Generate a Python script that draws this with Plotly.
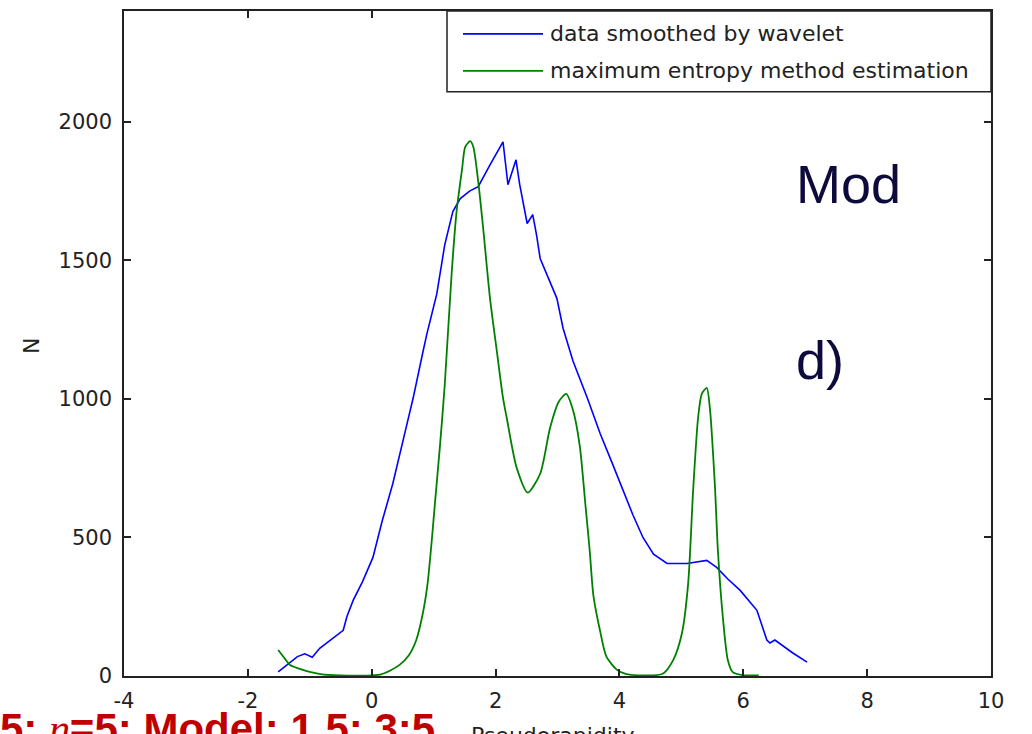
import plotly.graph_objects as go

# ---- data ----
blue_x = [-1.51, -1.40, -1.32, -1.20, -1.08, -0.96, -0.84, -0.72, -0.62, -0.46, -0.40, -0.30,
          -0.15, 0.02, 0.17, 0.34, 0.57, 0.67, 0.83, 0.89, 1.05, 1.18, 1.31, 1.43, 1.58, 1.72,
          1.91, 2.12, 2.20, 2.33, 2.39, 2.51, 2.60, 2.66, 2.72, 2.85, 2.99, 3.09, 3.25, 3.48,
          3.69, 3.88, 4.06, 4.22, 4.38, 4.55, 4.77, 5.09, 5.41, 5.57, 5.75, 5.95, 6.22, 6.38,
          6.43, 6.51, 6.80, 7.03]
blue_y = [15, 35, 50, 70, 80, 68, 100, 120, 137, 165, 215, 273,
          340, 428, 560, 694, 910, 1004, 1173, 1234, 1378, 1557, 1676, 1723, 1750, 1766,
          1845, 1928, 1773, 1863, 1773, 1633, 1665, 1594, 1507, 1440, 1363, 1255, 1137, 1004,
          874, 770, 669, 580, 500, 440, 406, 406, 417, 392, 350, 309, 237, 130,
          119, 130, 83, 50]

green_x = [-1.51, -1.40, -1.32, -1.15, -1.0, -0.8, -0.5, -0.2, 0.0, 0.15,
           0.3, 0.45, 0.60, 0.72, 0.82, 0.90, 0.97, 1.02, 1.10, 1.18, 1.29,
           1.37, 1.46, 1.51, 1.59, 1.64, 1.72, 1.80, 1.91, 2.02, 2.12,
           2.18, 2.34, 2.52, 2.72, 2.88, 3.02, 3.14, 3.25, 3.36, 3.45,
           3.52, 3.58, 3.69, 3.79, 3.96, 4.1, 4.4, 4.70, 4.87, 5.01,
           5.11, 5.19, 5.27, 5.33, 5.41, 5.46, 5.54, 5.59, 5.67, 5.75,
           5.83, 6.0, 6.25]
green_y = [94, 62, 40, 25, 15, 6, 2, 1, 2, 6,
           20, 40, 75, 130, 220, 330, 490, 621, 825, 1053, 1450,
           1676, 1831, 1910, 1930, 1910, 1784, 1615, 1363, 1173, 1004,
           932, 752, 662, 730, 896, 990, 1018, 960, 830, 620,
           453, 290, 160, 70, 22, 8, 2, 8, 58, 155,
           334, 669, 932, 1018, 1040, 968, 694, 453, 212, 58,
           14, 3, 2]

series_names = ["data smoothed by wavelet", "maximum entropy method estimation"]
x_ticks = [-4, -2, 0, 2, 4, 6, 8, 10]
x_tick_text = ["-4", "-2", "0", "2", "4", "6", "8", "10"]
y_ticks = [0, 500, 1000, 1500, 2000]
y_tick_text = ["0", "500", "1000", "1500", "2000"]
x_range = [-4, 10]
y_range = [0, 2400]

BLUE = "rgb(0,0,255)"
GREEN = "rgb(0,128,0)"
AXFONT = "DejaVu Sans, sans-serif"
SLIDEFONT = "Arial, Liberation Sans, sans-serif"
TXT = "#222"

W, H = 1032, 734
L, R, T, B = 124, 41, 9, 58
PW, PH = W - L - R, H - T - B


def px(xp):
    return (xp - L) / PW


def py(yp):
    return (H - B - yp) / PH


fig = go.Figure()
fig.add_trace(go.Scatter(x=blue_x, y=blue_y, mode="lines", name=series_names[0],
                         line=dict(color=BLUE, width=1.6)))
fig.add_trace(go.Scatter(x=green_x, y=green_y, mode="lines", name=series_names[1],
                         line=dict(color=GREEN, width=1.8, shape="spline", smoothing=0.7)))

axis_common = dict(showgrid=False, zeroline=False, showline=True, mirror="ticks",
                   linecolor=TXT, linewidth=1.5, ticks="inside", ticklen=7,
                   tickcolor=TXT, tickwidth=1.5,
                   tickfont=dict(family=AXFONT, size=21, color=TXT))

fig.update_xaxes(range=x_range, tickvals=x_ticks, ticktext=x_tick_text,
                 ticklabelstandoff=5, **axis_common)
fig.update_yaxes(range=y_range, tickvals=y_ticks, ticktext=y_tick_text,
                 ticklabelstandoff=6, **axis_common)

shapes = []
annotations = []

# legend box (MATLAB style)
shapes.append(dict(type="rect", xref="paper", yref="paper",
                   x0=px(447), x1=1.0, y0=py(90), y1=1.0,
                   line=dict(color=TXT, width=1.5), fillcolor="white", layer="above"))
for i, (col, yy) in enumerate([(BLUE, 32), (GREEN, 69)]):
    shapes.append(dict(type="line", xref="paper", yref="paper",
                       x0=px(463), x1=px(543), y0=py(yy), y1=py(yy),
                       line=dict(color=col, width=1.8), layer="above"))
    annotations.append(dict(xref="paper", yref="paper", x=px(548), y=py(yy),
                            xanchor="left", yanchor="middle", showarrow=False,
                            text=series_names[i],
                            font=dict(family=AXFONT, size=22, color=TXT)))

# axis titles
annotations.append(dict(xref="paper", yref="paper", x=px(553), y=py(736),
                        xanchor="center", yanchor="middle", showarrow=False,
                        text="Pseudorapidity", font=dict(family=AXFONT, size=22, color=TXT)))
annotations.append(dict(xref="paper", yref="paper", x=px(32), y=py(345),
                        xanchor="center", yanchor="middle", showarrow=False, textangle=-90,
                        text="N", font=dict(family=AXFONT, size=22, color=TXT)))

# slide overlay texts
NAVY = "#0e0a3c"
annotations.append(dict(xref="paper", yref="paper", x=px(794), y=py(183),
                        xanchor="left", yanchor="middle", showarrow=False,
                        text="Mod", font=dict(family=SLIDEFONT, size=54, color=NAVY)))
annotations.append(dict(xref="paper", yref="paper", x=px(794), y=py(359),
                        xanchor="left", yanchor="middle", showarrow=False,
                        text="d)", font=dict(family=SLIDEFONT, size=54, color=NAVY)))
annotations.append(dict(xref="paper", yref="paper", x=px(-2), y=py(729),
                        xanchor="left", yanchor="middle", showarrow=False,
                        text="<b>5; </b><span style=\"font-family:'Liberation Serif', serif\"><i>η</i></span><b>=5; Model: 1.5; 3:5</b>",
                        font=dict(family=SLIDEFONT, size=42, color="#c00000")))

fig.update_layout(width=W, height=H, margin=dict(l=L, r=R, t=T, b=B),
                  paper_bgcolor="white", plot_bgcolor="white", showlegend=False,
                  shapes=shapes, annotations=annotations)

fig.write_html("out.html")
